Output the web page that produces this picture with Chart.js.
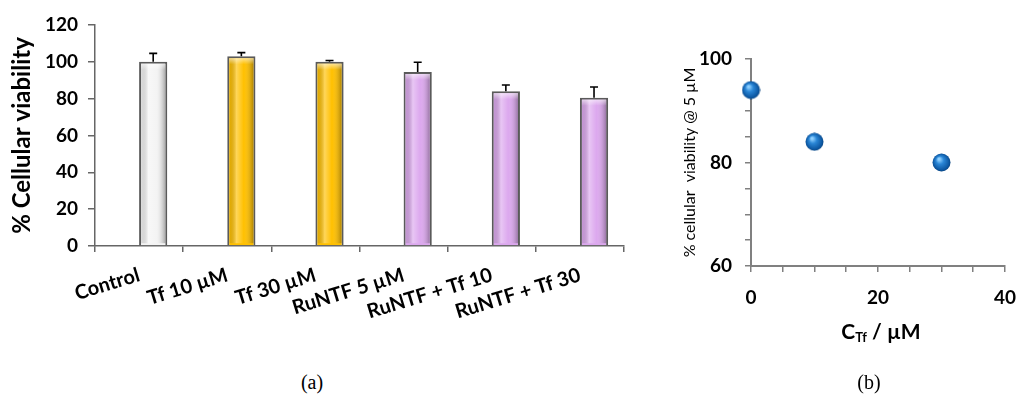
<!DOCTYPE html>
<html>
<head>
<meta charset="utf-8">
<script src="https://cdn.jsdelivr.net/npm/chart.js@4.4.1/dist/chart.umd.min.js"></script>
<style>
  body { margin: 0; background: #fff; width: 1030px; height: 394px; position: relative; overflow: hidden; font-family: Lato, sans-serif; }
  #boxA { position: absolute; left: 0; top: 0; width: 640px; height: 330px; }
  #boxB { position: absolute; left: 660px; top: 0; width: 370px; height: 330px; }
  .caption { position: absolute; width: 100px; text-align: center; font-family: "Liberation Serif", serif; font-size: 20px; line-height: 24px; color: #000; }
  #xTitleB { position: absolute; left: 781px; top: 318px; width: 200px; text-align: center; font-weight: bold; font-size: 21px; line-height: 26px; color: #000; }
  #xTitleB sub { font-size: 13px; vertical-align: -3px; }
</style>
</head>
<body>
<div id="boxA"><canvas id="chartA"></canvas></div>
<div id="boxB"><canvas id="chartB"></canvas></div>
<div id="xTitleB">C<sub>Tf</sub> / µM</div>
<div class="caption" style="left:262px; top:370px;">(a)</div>
<div class="caption" style="left:819px; top:370px;">(b)</div>
<script>
// Panel (a): viability per treatment
const treatments = ["Control", "Tf 10 µM", "Tf 30 µM", "RuNTF 5 µM", "RuNTF + Tf 10", "RuNTF + Tf 30"];
const viability = [100, 103, 100, 94.5, 84, 80.5];
const viabilityErr = [4.6, 2, 0.7, 5.3, 3.4, 5.8];
const yTicksA = [0, 20, 40, 60, 80, 100, 120];

// Panel (b): viability at 5 µM RuNTF vs Tf concentration
const tfConc = [0, 10, 30];
const viabilityAt5 = [94, 84, 80];
const yTicksB = [60, 80, 100];
const xTicksB = [0, 20, 40];

const barColors = ["#f4f4f4", "#ffc000", "#ffc000", "#dca8ee", "#dca8ee", "#dca8ee"];

Chart.defaults.font.family = "Lato, sans-serif";
Chart.defaults.color = "#000";

// shading to give the bars a bevelled look
const barShade = {
  id: "barShade",
  afterDatasetDraw(chart, args) {
    if (args.index !== 1) return;
    const ctx = chart.ctx;
    args.meta.data.forEach((bar) => {
      const { x, y, base, width } = bar.getProps(["x", "y", "base", "width"], true);
      const l = x - width / 2 + 2, r = x + width / 2 - 2;
      const g = ctx.createLinearGradient(l, 0, r, 0);
      g.addColorStop(0, "rgba(0,0,0,0.10)");
      g.addColorStop(0.3, "rgba(255,255,255,0.35)");
      g.addColorStop(0.6, "rgba(255,255,255,0)");
      g.addColorStop(1, "rgba(0,0,0,0.30)");
      ctx.save();
      ctx.fillStyle = g;
      ctx.fillRect(l, y + 2, r - l, base - y - 4);
      const t = ctx.createLinearGradient(0, y + 2, 0, y + 8);
      t.addColorStop(0, "rgba(255,255,255,0.55)");
      t.addColorStop(1, "rgba(255,255,255,0)");
      ctx.fillStyle = t;
      ctx.fillRect(l, y + 2, r - l, 6);
      ctx.restore();
    });
  },
};

// upper error bars
const errorBars = {
  id: "errorBars",
  afterDatasetsDraw(chart) {
    const ctx = chart.ctx;
    const yScale = chart.scales.y;
    const meta = chart.getDatasetMeta(1);
    ctx.save();
    ctx.strokeStyle = "#000";
    ctx.lineWidth = 1.6;
    meta.data.forEach((bar, i) => {
      const top = yScale.getPixelForValue(viability[i] + viabilityErr[i]);
      ctx.beginPath();
      ctx.moveTo(bar.x, bar.y);
      ctx.lineTo(bar.x, top);
      ctx.moveTo(bar.x - 4, top);
      ctx.lineTo(bar.x + 4, top);
      ctx.stroke();
    });
    ctx.restore();
  },
};

new Chart(document.getElementById("chartA"), {
  type: "bar",
  data: {
    labels: treatments,
    datasets: [
      { label: "spacer", data: treatments.map(() => null) },
      {
        label: "viability",
        data: viability,
        backgroundColor: barColors,
        borderColor: "#5a5a5a",
        borderWidth: 2,
      },
    ],
  },
  options: {
    responsive: true,
    maintainAspectRatio: false,
    animation: false,
    categoryPercentage: 0.64,
    barPercentage: 1.0,
    layout: { padding: { top: 25, right: 16, left: 0, bottom: 0 } },
    plugins: { legend: { display: false }, tooltip: { enabled: false } },
    scales: {
      x: {
        afterFit: (s) => { s.height = 84; },
        grid: { drawOnChartArea: false, tickLength: 6, color: "#666", lineWidth: 1.5 },
        border: { color: "#666", width: 1.5 },
        ticks: { font: { size: 20, weight: "bold" }, minRotation: 17, maxRotation: 17, padding: 11, autoSkip: false },
      },
      y: {
        min: 0,
        max: 120,
        afterFit: (s) => { s.width = 95; },
        afterBuildTicks: (s) => { s.ticks = yTicksA.map((v) => ({ value: v })); },
        grid: { drawOnChartArea: false, tickLength: 7, color: "#666", lineWidth: 1.5 },
        border: { color: "#666", width: 1.5 },
        ticks: { font: { size: 19, weight: "bold" }, padding: 10 },
        title: { display: true, text: "% Cellular viability", font: { size: 24, weight: "bold" }, padding: { top: 8, bottom: 0 } },
      },
    },
  },
  plugins: [barShade, errorBars],
});

// sphere marker for panel (b)
const sphere = document.createElement("canvas");
sphere.width = 19;
sphere.height = 19;
{
  const c = sphere.getContext("2d");
  const g = c.createRadialGradient(7, 6, 1, 9.5, 9.5, 9.5);
  g.addColorStop(0, "#8fd0ff");
  g.addColorStop(0.35, "#2a86d6");
  g.addColorStop(0.85, "#0b559f");
  g.addColorStop(1, "#063c73");
  c.fillStyle = g;
  c.beginPath();
  c.arc(9.5, 9.5, 9, 0, Math.PI * 2);
  c.fill();
}

new Chart(document.getElementById("chartB"), {
  type: "scatter",
  data: {
    datasets: [
      {
        label: "viability @ 5 µM",
        data: tfConc.map((x, i) => ({ x, y: viabilityAt5[i] })),
        pointStyle: sphere,
        clip: false,
      },
    ],
  },
  options: {
    responsive: true,
    maintainAspectRatio: false,
    animation: false,
    layout: { padding: { top: 59, right: 12, left: 0, bottom: 0 } },
    plugins: { legend: { display: false }, tooltip: { enabled: false } },
    scales: {
      x: {
        type: "linear",
        min: 0,
        max: 40,
        afterFit: (s) => { s.height = 64; },
        grid: { drawOnChartArea: false, tickLength: 6, color: "#808080", lineWidth: 1.5 },
        border: { color: "#808080", width: 2 },
        ticks: {
          stepSize: 5,
          autoSkip: false,
          maxRotation: 0,
          padding: 14,
          font: { size: 19, weight: "bold" },
          callback: (v) => (xTicksB.includes(v) ? v : ""),
        },
      },
      y: {
        min: 60,
        max: 100,
        afterFit: (s) => { s.width = 91; },
        grid: { drawOnChartArea: false, tickLength: 6, color: "#808080", lineWidth: 1.5 },
        border: { color: "#808080", width: 2 },
        ticks: {
          stepSize: 5,
          autoSkip: false,
          padding: 13,
          font: { size: 19, weight: "bold" },
          callback: (v) => (yTicksB.includes(v) ? v : ""),
        },
        title: { display: true, text: "% cellular  viability @ 5 µM", font: { size: 16 }, padding: { top: 20, bottom: 0 } },
      },
    },
  },
});
</script>
</body>
</html>
